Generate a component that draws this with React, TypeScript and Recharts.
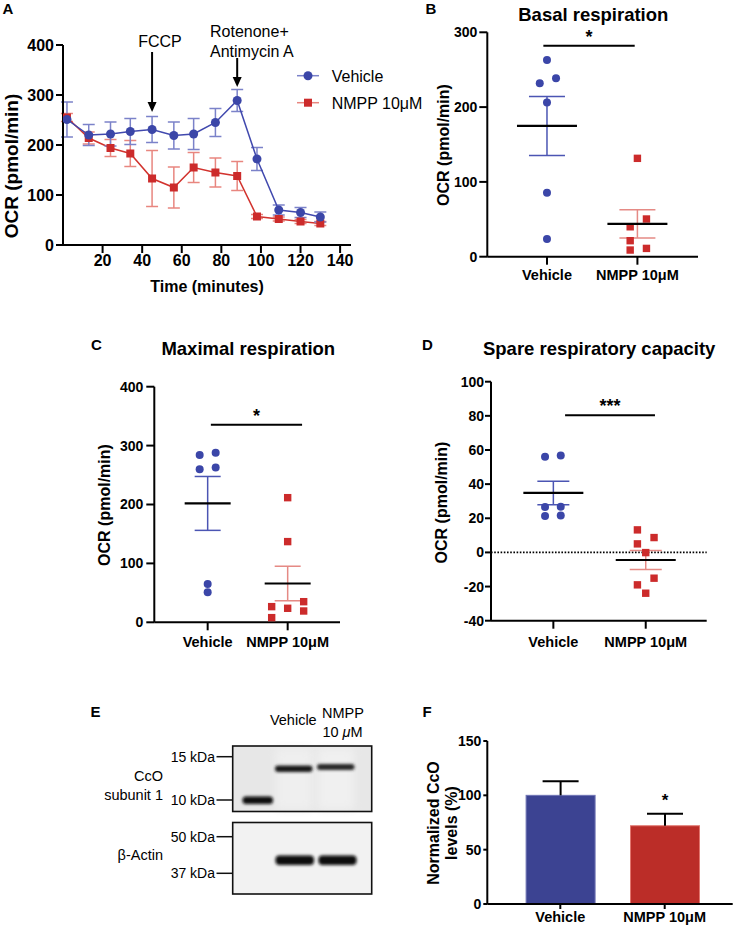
import React from 'react'
import {
  LineChart,
  Line,
  ScatterChart,
  Scatter,
  BarChart,
  Bar,
  XAxis,
  YAxis,
  ErrorBar,
  ReferenceLine,
} from 'recharts'

const FONT = '"Liberation Sans", Arial, Helvetica, sans-serif'
const BLUE = '#3b46a8'
const RED = '#cc2b2b'
const BLUE_LINE = '#4149ae'
const RED_LINE = '#d2332e'
const BLUE_ERR = '#7b82c9'
const RED_ERR = '#e8867f'

// A: OCR trace
const timeMin = [2, 13, 24, 34, 45, 56, 66, 77, 88, 98, 109, 120, 130]
const vehicleOcr = [251, 220, 222, 227, 231, 219, 222, 245, 289, 172, 70, 65, 56]
const vehicleOcrSem = [35, 21, 24, 26, 26, 27, 31, 28, 22, 23, 10, 10, 10]
const nmppOcr = [255, 214, 194, 183, 133, 115, 155, 145, 138, 57, 52, 47, 43]
const nmppOcrSem = [8, 12, 17, 26, 56, 41, 30, 29, 29, 4, 4, 4, 4]
const timeTicks = [20, 40, 60, 80, 100, 120, 140]
const ocrTicks = [0, 100, 200, 300, 400]

const groups = ['Vehicle', 'NMPP 10μM']

// B: basal respiration
const basalVehicle = [263, 238.5, 232, 206, 85.6, 23.6]
const basalVehicleJitter = [0, 0.1, -0.08, 0, 0, 0]
const basalNmpp = [131.5, 50.4, 40, 21.4, 11.1, 8.9]
const basalNmppJitter = [0, 0.1, -0.08, -0.08, 0.1, -0.08]
const basalTicks = [0, 100, 200, 300]

// C: maximal respiration
const maximalVehicle = [288, 284, 263, 260, 65, 51]
const maximalVehicleJitter = [0.1, -0.1, 0.1, -0.1, 0, 0]
const maximalNmpp = [211.6, 137, 35, 26.6, 23.8, 19.2, 7.9]
const maximalNmppJitter = [0, 0, 0.2, -0.2, 0, 0.2, -0.2]
const maximalTicks = [0, 100, 200, 300, 400]

// D: spare respiratory capacity
const spareVehicle = [56.7, 56.1, 26.8, 26.6, 21.6, 21.4]
const spareVehicleJitter = [0.08, -0.09, 0.08, -0.09, 0.08, -0.09]
const spareNmpp = [13.2, 8.7, 5, -0.1, -15.1, -19, -23.9]
const spareNmppJitter = [-0.09, 0.09, -0.09, 0, 0.09, -0.09, 0]
const spareTicks = [-40, -20, 0, 20, 40, 60, 80, 100]

// F: normalized CcO levels
const ccoLevel = [100, 72]
const ccoSem = [13, 11]
const ccoMarks = ['', '*']
const ccoTicks = [0, 50, 100, 150]
const ccoFills = ['#3c4392', '#bb2d28']
const ccoEdges = ['#7075b5', '#e2766e']

const mean = (v: number[]) => v.reduce((a, b) => a + b, 0) / v.length
const sem = (v: number[]) => {
  const m = mean(v)
  const sd = Math.sqrt(v.reduce((a, b) => a + (b - m) ** 2, 0) / (v.length - 1))
  return sd / Math.sqrt(v.length)
}

const axisLine = { stroke: '#000', strokeWidth: 2 }
const tickFont = (size: number) => ({ fill: '#000', fontSize: size, fontWeight: 700, fontFamily: FONT })

function Placed({ left, top, children }: { left: number; top: number; children: React.ReactNode }) {
  return <div style={{ position: 'absolute', left, top }}>{children}</div>
}

function DrugArrow(props: any) {
  const { x1, y1, x2, y2 } = props
  return (
    <g>
      <line x1={x1} y1={y1} x2={x2} y2={y2 - 8} stroke="#000" strokeWidth={2} />
      <path d={`M${x2 - 4.5},${y2 - 10} L${x2 + 4.5},${y2 - 10} L${x2},${y2} Z`} fill="#000" />
    </g>
  )
}

const sigBar = (mark: string, size: number) =>
  function SigBar(props: any) {
    const { x1, y1, x2, y2 } = props
    return (
      <g>
        <line x1={x1} y1={y1} x2={x2} y2={y2} stroke="#000" strokeWidth={2} />
        <text
          x={(x1 + x2) / 2}
          y={y1 - 3}
          textAnchor="middle"
          fontSize={size}
          fontWeight={700}
          fontFamily={FONT}
          fill="#000"
        >
          {mark}
        </text>
      </g>
    )
  }

function OcrTrace() {
  const rows = timeMin.map((t, i) => ({
    t,
    veh: vehicleOcr[i],
    vehErr: vehicleOcrSem[i],
    nmpp: nmppOcr[i],
    nmppErr: nmppOcrSem[i],
  }))
  return (
    <LineChart width={420} height={300} data={rows} margin={{ top: 45, right: 69, bottom: 25, left: 23 }}>
      <XAxis
        dataKey="t"
        type="number"
        domain={[0, 145.5]}
        ticks={timeTicks}
        interval={0}
        allowDataOverflow
        height={30}
        tickSize={8}
        tickMargin={2}
        axisLine={axisLine}
        tickLine={axisLine}
        tick={tickFont(16)}
      />
      <YAxis
        type="number"
        domain={[0, 400]}
        ticks={ocrTicks}
        interval={0}
        allowDataOverflow
        width={40}
        tickSize={7}
        tickMargin={2}
        axisLine={axisLine}
        tickLine={axisLine}
        tick={tickFont(16)}
      />
      <Line
        dataKey="nmpp"
        stroke={RED_LINE}
        strokeWidth={1.5}
        isAnimationActive={false}
        dot={(p: any) => (
          <rect key={`sq-${p.index}`} x={p.cx - 4} y={p.cy - 4} width={8} height={8} fill={RED} />
        )}
      >
        <ErrorBar dataKey="nmppErr" direction="y" width={6} stroke={RED_ERR} strokeWidth={1.5} />
      </Line>
      <Line
        dataKey="veh"
        stroke={BLUE_LINE}
        strokeWidth={1.5}
        isAnimationActive={false}
        dot={{ r: 4.5, fill: BLUE, stroke: BLUE, strokeWidth: 0 }}
      >
        <ErrorBar dataKey="vehErr" direction="y" width={6} stroke={BLUE_ERR} strokeWidth={1.5} />
      </Line>
      <ReferenceLine segment={[{ x: 45, y: 386 }, { x: 45, y: 266 }]} shape={DrugArrow} />
      <ReferenceLine segment={[{ x: 88, y: 374 }, { x: 88, y: 316 }]} shape={DrugArrow} />
    </LineChart>
  )
}

type DotPlotProps = {
  width: number
  height: number
  margin: { top: number; right: number; bottom: number; left: number }
  yDomain: [number, number]
  yTicks: number[]
  xDomain: [number, number]
  vehicle: number[]
  vehicleJitter: number[]
  nmpp: number[]
  nmppJitter: number[]
  sig: { from: number; to: number; at: number; mark: string }
  meanHalf: number
  capHalf: number
  yTickSize: number
  yTickMargin: number
  xTickSize: number
  xTickMargin: number
  zeroLine?: boolean
}

function DotPlot(p: DotPlotProps) {
  const vehPts = p.vehicle.map((y, i) => ({ x: 0 + p.vehicleJitter[i], y }))
  const nmppPts = p.nmpp.map((y, i) => ({ x: 1 + p.nmppJitter[i], y }))
  const vehSummary = [{ x: 0, y: mean(p.vehicle), e: sem(p.vehicle) }]
  const nmppSummary = [{ x: 1, y: mean(p.nmpp), e: sem(p.nmpp) }]
  const meanShape = (s: any) => (
    <line x1={s.cx - p.meanHalf} y1={s.cy} x2={s.cx + p.meanHalf} y2={s.cy} stroke="#000" strokeWidth={2.2} />
  )
  return (
    <ScatterChart width={p.width} height={p.height} margin={p.margin}>
      <XAxis
        dataKey="x"
        type="number"
        domain={p.xDomain}
        ticks={[0, 1]}
        interval={0}
        allowDataOverflow
        tickFormatter={(v: number) => groups[v]}
        height={30}
        tickSize={p.xTickSize}
        tickMargin={p.xTickMargin}
        axisLine={axisLine}
        tickLine={axisLine}
        tick={tickFont(14.5)}
      />
      <YAxis
        dataKey="y"
        type="number"
        domain={p.yDomain}
        ticks={p.yTicks}
        interval={0}
        allowDataOverflow
        width={50}
        tickSize={p.yTickSize}
        tickMargin={p.yTickMargin}
        axisLine={axisLine}
        tickLine={axisLine}
        tick={tickFont(14)}
      />
      {p.zeroLine && (
        <ReferenceLine y={0} stroke="#000" strokeWidth={1.6} strokeDasharray="1.6 1.6" />
      )}
      <Scatter
        data={vehPts}
        isAnimationActive={false}
        shape={(s: any) => <circle cx={s.cx} cy={s.cy} r={4} fill={BLUE} />}
      />
      <Scatter
        data={nmppPts}
        isAnimationActive={false}
        shape={(s: any) => <rect x={s.cx - 3.7} y={s.cy - 3.7} width={7.4} height={7.4} fill={RED} />}
      />
      <Scatter data={vehSummary} isAnimationActive={false} shape={meanShape}>
        <ErrorBar dataKey="e" direction="y" width={p.capHalf} stroke="#4b55b3" strokeWidth={1.5} />
      </Scatter>
      <Scatter data={nmppSummary} isAnimationActive={false} shape={meanShape}>
        <ErrorBar dataKey="e" direction="y" width={p.capHalf} stroke="#e58a85" strokeWidth={1.5} />
      </Scatter>
      <ReferenceLine
        segment={[{ x: p.sig.from, y: p.sig.at }, { x: p.sig.to, y: p.sig.at }]}
        shape={sigBar(p.sig.mark, 18)}
      />
    </ScatterChart>
  )
}

function BarWithSem(props: any) {
  const { x, y, width, height, payload, index } = props
  const pxPerUnit = height / payload.level
  const top = y - payload.err * pxPerUnit
  const cx = x + width / 2
  return (
    <g>
      <rect x={x} y={y} width={width} height={height} fill={ccoFills[index]} stroke={ccoEdges[index]} strokeWidth={1} />
      <line x1={cx} y1={y} x2={cx} y2={top} stroke="#000" strokeWidth={2} />
      <line x1={cx - 18} y1={top} x2={cx + 18} y2={top} stroke="#000" strokeWidth={2} />
      {payload.mark && (
        <text x={cx} y={top - 8} textAnchor="middle" fontSize={17} fontWeight={700} fontFamily={FONT} fill="#000">
          {payload.mark}
        </text>
      )}
    </g>
  )
}

function CcoBars() {
  const rows = groups.map((name, i) => ({ name, level: ccoLevel[i], err: ccoSem[i], mark: ccoMarks[i] }))
  return (
    <BarChart width={356} height={297} data={rows} margin={{ top: 111, right: 3.3, bottom: 1, left: 57.3 }}>
      <XAxis
        dataKey="name"
        padding={{ left: 20.8, right: 15.8 }}
        height={22}
        interval={0}
        tickSize={5}
        tickMargin={3}
        axisLine={axisLine}
        tickLine={axisLine}
        tick={tickFont(14.5)}
      />
      <YAxis
        type="number"
        domain={[0, 150]}
        ticks={ccoTicks}
        interval={0}
        allowDataOverflow
        width={50}
        tickSize={4}
        tickMargin={2}
        axisLine={axisLine}
        tickLine={axisLine}
        tick={tickFont(14)}
      />
      <Bar dataKey="level" barSize={69} shape={BarWithSem} isAnimationActive={false} />
    </BarChart>
  )
}

function T(props: any) {
  const { x, y, size = 14, bold = false, anchor = 'start', rotate = false, children, ...rest } = props
  return (
    <text
      x={x}
      y={y}
      fontSize={size}
      fontWeight={bold ? 700 : 400}
      fontFamily={FONT}
      textAnchor={anchor}
      fill="#000"
      transform={rotate ? `rotate(-90 ${x} ${y})` : undefined}
      {...rest}
    >
      {children}
    </text>
  )
}

function Blot() {
  return (
    <g>
      <defs>
        <filter id="bandBlur" x="-30%" y="-200%" width="160%" height="500%">
          <feGaussianBlur stdDeviation="1.7" />
        </filter>
        <filter id="laneBlur" x="-30%" y="-10%" width="160%" height="120%">
          <feGaussianBlur stdDeviation="4" />
        </filter>
      </defs>
      {/* CcO membrane */}
      <rect x={232.7} y={746} width={139} height={65.5} fill="#e7e7e7" />
      <rect x={276} y={748} width={36} height={62} fill="#efefef" filter="url(#laneBlur)" />
      <rect x={318} y={748} width={36} height={62} fill="#f0f0f0" filter="url(#laneBlur)" />
      <rect x={242.5} y={796.5} width={30.5} height={7.5} rx={3.5} fill="#0d0d0d" filter="url(#bandBlur)" />
      <rect x={275} y={765.5} width={37.5} height={6.5} rx={3} fill="#161616" filter="url(#bandBlur)" />
      <rect x={317} y={764} width={37.5} height={6} rx={3} fill="#262626" filter="url(#bandBlur)" />
      <rect x={232.7} y={746} width={139} height={65.5} fill="none" stroke="#111" strokeWidth={1.6} />
      {/* actin membrane */}
      <rect x={232.7} y={822.5} width={139} height={71.5} fill="#f2f2f2" />
      <rect x={275.5} y={855.5} width={38.5} height={9.5} rx={4} fill="#0d0d0d" filter="url(#bandBlur)" />
      <rect x={318.5} y={855.5} width={38} height={9.5} rx={4} fill="#0d0d0d" filter="url(#bandBlur)" />
      <rect x={232.7} y={822.5} width={139} height={71.5} fill="none" stroke="#111" strokeWidth={1.6} />
      {/* marker ticks */}
      {[756.7, 800, 836.7, 873.3].map((y) => (
        <line key={y} x1={216.5} y1={y} x2={232.7} y2={y} stroke="#111" strokeWidth={1.5} />
      ))}
      <T x={215} y={761.5} size={14} anchor="end">15 kDa</T>
      <T x={215} y={805} size={14} anchor="end">10 kDa</T>
      <T x={215} y={841.5} size={14} anchor="end">50 kDa</T>
      <T x={215} y={878.3} size={14} anchor="end">37 kDa</T>
      <T x={163} y={781} size={14.5} anchor="end">CcO</T>
      <T x={163} y={800} size={14.5} anchor="end">subunit 1</T>
      <T x={163} y={860} size={14.5} anchor="end">β-Actin</T>
      <T x={293.3} y={725} size={14.5} anchor="middle">Vehicle</T>
      <T x={343} y={718.3} size={14.5} anchor="middle">NMPP</T>
      <T x={342.5} y={736.7} size={14.5} anchor="middle">
        10 <tspan fontStyle="italic">μ</tspan>M
      </T>
    </g>
  )
}

function Overlay() {
  return (
    <svg
      width={736}
      height={927}
      style={{ position: 'absolute', left: 0, top: 0, pointerEvents: 'none' }}
    >
      {/* panel letters */}
      <T x={2.5} y={13.5} size={15} bold>A</T>
      <T x={425.5} y={13.5} size={15} bold>B</T>
      <T x={91} y={349.5} size={15} bold>C</T>
      <T x={422} y={349.5} size={15} bold>D</T>
      <T x={90.5} y={716.8} size={15} bold>E</T>
      <T x={422.5} y={716.8} size={15} bold>F</T>

      {/* A */}
      <T x={18} y={166} size={19} bold anchor="middle" rotate>OCR (pmol/min)</T>
      <T x={207} y={292} size={16} bold anchor="middle">Time (minutes)</T>
      <T x={160} y={47.3} size={16} anchor="middle">FCCP</T>
      <T x={210} y={36.7} size={16}>Rotenone+</T>
      <T x={210} y={57.3} size={16}>Antimycin A</T>
      <line x1={297} y1={75.7} x2={319} y2={75.7} stroke={BLUE_ERR} strokeWidth={1.5} />
      <circle cx={308} cy={75.7} r={4.5} fill={BLUE} />
      <T x={331.7} y={81.5} size={16}>Vehicle</T>
      <line x1={297} y1={102.7} x2={319} y2={102.7} stroke={RED_ERR} strokeWidth={1.5} />
      <rect x={304} y={98.7} width={8} height={8} fill={RED} />
      <T x={331.7} y={108.5} size={16}>NMPP 10μM</T>

      {/* B */}
      <T x={593.3} y={20.7} size={18.5} bold anchor="middle">Basal respiration</T>
      <T x={449} y={145} size={16} bold anchor="middle" rotate>OCR (pmol/min)</T>

      {/* C */}
      <T x={248.3} y={355} size={18.5} bold anchor="middle">Maximal respiration</T>
      <T x={110} y={505} size={16} bold anchor="middle" rotate>OCR (pmol/min)</T>

      {/* D */}
      <T x={599.2} y={355} size={18.5} bold anchor="middle">Spare respiratory capacity</T>
      <T x={447} y={502.5} size={16} bold anchor="middle" rotate>OCR (pmol/min)</T>

      {/* E */}
      <Blot />

      {/* F */}
      <T x={439} y={823} size={16} bold anchor="middle" rotate>Normalized CcO</T>
      <T x={457} y={823} size={16} bold anchor="middle" rotate>levels (%)</T>
    </svg>
  )
}

export default function App() {
  return (
    <div style={{ position: 'absolute', left: 0, top: 0, width: 736, height: 927, background: '#fff' }}>
      <Placed left={0} top={0}>
        <OcrTrace />
      </Placed>
      <Placed left={380} top={0}>
        <DotPlot
          width={356}
          height={300}
          margin={{ top: 32.3, right: 38, bottom: 13.3, left: 57.3 }}
          yDomain={[0, 300]}
          yTicks={basalTicks}
          xDomain={[-0.66, 1.67]}
          vehicle={basalVehicle}
          vehicleJitter={basalVehicleJitter}
          nmpp={basalNmpp}
          nmppJitter={basalNmppJitter}
          sig={{ from: -0.04, to: 0.97, at: 282, mark: '*' }}
          meanHalf={30}
          capHalf={18}
          yTickSize={8}
          yTickMargin={2}
          xTickSize={8}
          xTickMargin={5}
        />
      </Placed>
      <Placed left={60} top={300}>
        <DotPlot
          width={320}
          height={360}
          margin={{ top: 86.7, right: 40, bottom: 7.7, left: 44.3 }}
          yDomain={[0, 400]}
          yTicks={maximalTicks}
          xDomain={[-0.667, 1.654]}
          vehicle={maximalVehicle}
          vehicleJitter={maximalVehicleJitter}
          nmpp={maximalNmpp}
          nmppJitter={maximalNmppJitter}
          sig={{ from: 0.04, to: 1.18, at: 335.5, mark: '*' }}
          meanHalf={23}
          capHalf={13}
          yTickSize={8}
          yTickMargin={3}
          xTickSize={8}
          xTickMargin={6}
        />
      </Placed>
      <Placed left={380} top={300}>
        <DotPlot
          width={356}
          height={360}
          margin={{ top: 81.7, right: 29.3, bottom: 9.3, left: 61 }}
          yDomain={[-40, 100]}
          yTicks={spareTicks}
          xDomain={[-0.675, 1.66]}
          vehicle={spareVehicle}
          vehicleJitter={spareVehicleJitter}
          nmpp={spareNmpp}
          nmppJitter={spareNmppJitter}
          sig={{ from: 0.127, to: 1.1, at: 80.3, mark: '***' }}
          meanHalf={30}
          capHalf={16}
          yTickSize={6}
          yTickMargin={1}
          xTickSize={8}
          xTickMargin={8}
          zeroLine
        />
      </Placed>
      <Placed left={380} top={630}>
        <CcoBars />
      </Placed>
      <Overlay />
    </div>
  )
}
